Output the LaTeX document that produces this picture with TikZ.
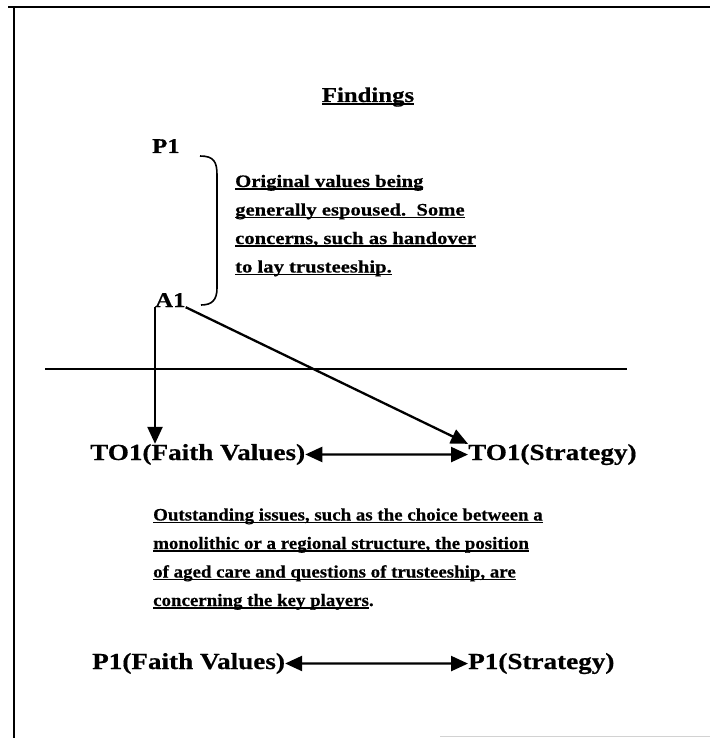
\documentclass[tikz,border=0pt]{standalone}
\usepackage{fontspec}
\setmainfont{Liberation Serif}
\newfontfamily\labelfont[FakeStretch=1.18,FakeBold=0.6]{Liberation Serif}
\newfontfamily\notefont[FakeStretch=1.08,FakeBold=0.5]{Liberation Serif}
\newsavebox{\ulinebox}
\newcommand{\ulin}[1]{\sbox{\ulinebox}{#1}\rlap{\rule[-2.8pt]{\wd\ulinebox}{1.5pt}}\usebox{\ulinebox}}
\usetikzlibrary{arrows.meta}
\tikzset{
  lbl/.style={inner sep=0pt, anchor=base west, font=\labelfont\bfseries\fontsize{23}{28}\selectfont},
  note/.style={inner sep=0pt, anchor=base west, font=\notefont\bfseries\fontsize{17.5}{21}\selectfont},
  arr/.style={-{Triangle[length=17pt,width=15pt]}, line width=2.3pt},
  dbl/.style={{Triangle[length=17pt,width=15pt]}-{Triangle[length=17pt,width=15pt]}, line width=2.3pt}
}
\begin{document}
\begin{tikzpicture}[x=1pt,y=-1pt]
\useasboundingbox (0,0) rectangle (710,738);
% frame
\draw[line width=1.8pt] (8,7) -- (710,7);
\draw[line width=1.8pt] (14,7) -- (14,738);
\draw[gray!35] (440,736) -- (710,736);
% title
\node[inner sep=0pt, anchor=base, font=\labelfont\bfseries\fontsize{21}{25}\selectfont] (title) at (368,102) {\ulin{Findings}};
% upper part
\node[lbl, font=\labelfont\bfseries\fontsize{21}{25}\selectfont] (P1) at (152,153) {P1};
\node[lbl, font=\labelfont\bfseries\fontsize{21}{25}\selectfont] (A1) at (155,307) {A1};
\draw[line width=1.6pt] (200,156) .. controls (214,156) and (217,162) .. (217,175)
    -- (217,288) .. controls (217,300) and (212,305) .. (201,305);
\foreach \txt [count=\i] in {{Original values being}, {generally espoused.~~Some},
    {concerns, such as handover}, {to lay trusteeship.}}
  \node[note, font=\labelfont\bfseries\fontsize{17.5}{21}\selectfont] (orig\i) at (235,158.5+28.5*\i) {\ulin{\txt}};
% divider
\draw[line width=2.4pt] (45,369) -- (627,369);
% tensions
\node[lbl] (TOfaith) at (90,460) {TO1(Faith Values)};
\node[lbl] (TOstrat) at (468,460) {TO1(Strategy)};
\draw[arr] (A1.south west) -- (A1.south west |- TOfaith.north);
\draw[arr] (A1.south east) -- (TOstrat.north west);
\draw[dbl] (TOfaith.east) -- (TOstrat.west);
% outstanding issues
\foreach \txt [count=\i] in {{Outstanding issues, such as the choice between a},
    {monolithic or a regional structure, the position},
    {of aged care and questions of trusteeship, are}}
  \node[note] (issue\i) at (153,492+28.5*\i) {\ulin{\txt}};
\node[note] (issue4) at (153,606) {\ulin{concerning the key players}.};
% bottom
\node[lbl] (Pfaith) at (92,669) {P1(Faith Values)};
\node[lbl] (Pstrat) at (468,669) {P1(Strategy)};
\draw[dbl] (Pfaith.east) -- (Pstrat.west);
\end{tikzpicture}
\end{document}
